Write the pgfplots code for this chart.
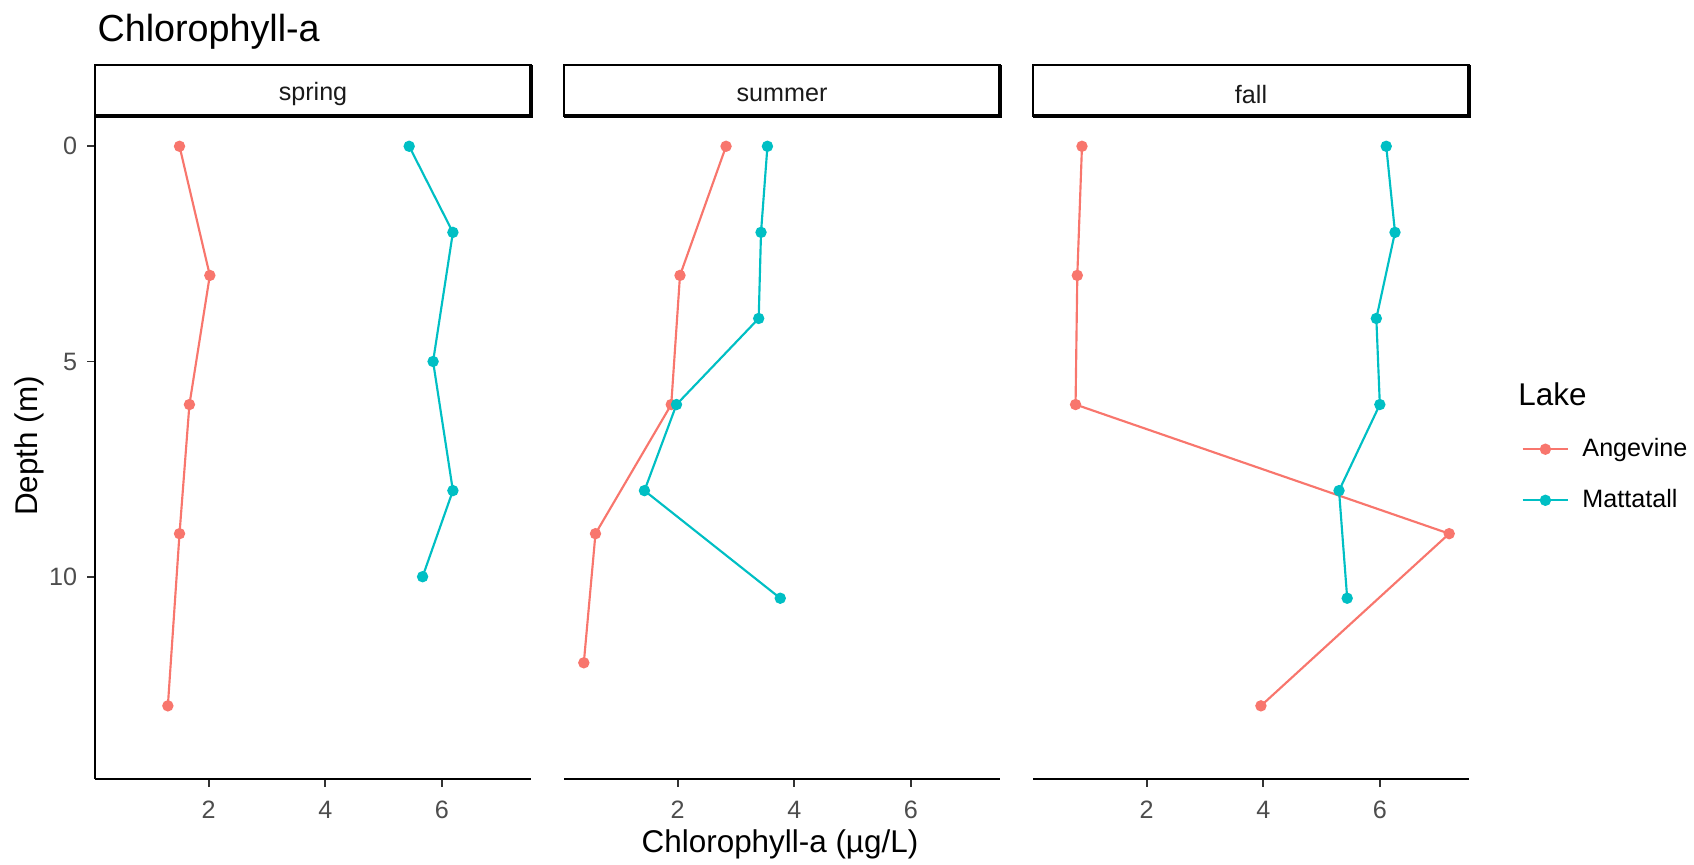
\documentclass[border=0pt]{standalone}
\usepackage{fontspec}
\setmainfont{Liberation Sans}
\usepackage{pgfplots}
\pgfplotsset{compat=1.18}

\definecolor{angev}{HTML}{F8766D}
\definecolor{matt}{HTML}{00BFC4}
\definecolor{gray30}{HTML}{4D4D4D}
\definecolor{gray20}{HTML}{333333}
\definecolor{gray10}{HTML}{1A1A1A}

\pgfplotsset{
  facet/.style={
    anchor=south west, scale only axis,
    width=152.6pt, height=232pt,
    xmin=0.05, xmax=7.53, ymin=-0.7, ymax=14.7,
    y dir=reverse, clip=false,
    xtick={2,4,6}, ytick={0,5,10},
    axis line style={draw=none},
    tick align=outside, major tick length=2.75pt,
    tick style={gray20, line width=0.6pt},
    /pgf/number format/assume math mode=true,
    ticklabel style={font=\fontsize{8.8}{10}\selectfont, text=gray30},
    xticklabel style={yshift=-1.5pt},
    xtick pos=left,
    every axis plot/.append style={line width=0.75pt, mark=*, mark size=1.6pt, mark options={solid}},
  },
  ang/.style={angev},
  mat/.style={matt},
}

\newcommand{\strip}[1]{%
  \fill[white] (axis description cs:0,1) rectangle ([yshift=17.85pt]axis description cs:1,1);
  \draw[line width=0.7pt] (axis description cs:0,1) rectangle ([yshift=17.85pt]axis description cs:1,1);
  \draw[line width=1.4pt] ([yshift=17.85pt]axis description cs:1,1) -- (axis description cs:1,1) -- (axis description cs:0,1);
  \node[font=\fontsize{8.8}{10}\selectfont, text=gray10] at ([yshift=7.6pt]axis description cs:0.5,1) {#1};
  \draw[line width=0.8pt] (axis description cs:0,0) -- (axis description cs:1,0);
}

\begin{document}
\begin{tikzpicture}
\useasboundingbox (-33.25pt,-29.75pt) rectangle (559.65pt,272.65pt);

% spring
\begin{axis}[facet, at={(0pt,0pt)}, ytick pos=left]
\addplot[ang] coordinates {(1.50,0) (2.02,3) (1.67,6) (1.50,9) (1.30,13)};
\addplot[mat] coordinates {(5.44,0) (6.19,2) (5.85,5) (6.19,8) (5.67,10)};
\strip{spring}
\draw[line width=0.8pt] (axis description cs:0,0) -- (axis description cs:0,1);
\end{axis}

% summer
\begin{axis}[facet, at={(164.15pt,0pt)}, ytick=\empty]
\addplot[ang] coordinates {(2.83,0) (2.04,3) (1.89,6) (0.59,9) (0.39,12)};
\addplot[mat] coordinates {(3.54,0) (3.43,2) (3.39,4) (1.98,6) (1.43,8) (3.76,10.5)};
\strip{summer}
\end{axis}

% fall
\begin{axis}[facet, at={(328.3pt,0pt)}, ytick=\empty,
  legend style={at={(axis description cs:1.119,0.459)}, anchor=west,
    draw=none, fill=none, inner sep=0pt, row sep=6pt,
    font=\fontsize{8.8}{10}\selectfont,
    /tikz/every odd column/.append style={column sep=2.6pt}},
  legend cell align=left,
  legend image code/.code={\draw[mark repeat=2,mark phase=2] plot coordinates {(0pt,0pt)(8pt,0pt)(16pt,0pt)};}]
\addplot[ang] coordinates {(0.89,0) (0.81,3) (0.78,6) (7.19,9) (3.96,13)};
\addlegendentry{Angevine}
\addplot[mat] coordinates {(6.11,0) (6.26,2) (5.94,4) (6.00,6) (5.30,8) (5.44,10.5)};
\addlegendentry{Mattatall}
\strip{fall}
\end{axis}

\node[anchor=west, font=\fontsize{13.2}{15}\selectfont, inner sep=0pt] at (0.7pt,261.5pt) {Chlorophyll-a};
\node[font=\fontsize{11}{13}\selectfont, inner sep=0pt] at (239.75pt,-22.9pt) {Chlorophyll-a (µg/L)};
\node[font=\fontsize{11}{13}\selectfont, inner sep=0pt, rotate=90] at (-23.1pt,116.5pt) {Depth (m)};
\node[anchor=west, font=\fontsize{11}{13}\selectfont, inner sep=0pt] at (498pt,134.75pt) {Lake};
\end{tikzpicture}
\end{document}
